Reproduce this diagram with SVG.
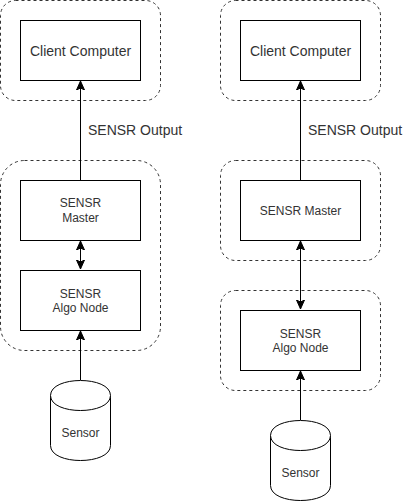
<svg xmlns="http://www.w3.org/2000/svg" width="411" height="501" viewBox="0 0 411 501">
<defs>
<style>
.grp{fill:none;stroke:#333;stroke-width:1;stroke-dasharray:3 3}
.box{fill:#fff;stroke:#000;stroke-width:1}
.cyl{fill:#fff;stroke:#000;stroke-width:1}
.cl{fill:none;stroke:#000;stroke-width:1}
.t{font-family:"Liberation Sans",Arial,Helvetica,sans-serif;fill:#333;text-anchor:middle}
.t12{font-size:12px}
.t14{font-size:14px}
.lbl{font-family:"Liberation Sans",Arial,Helvetica,sans-serif;fill:#333;font-size:14px}
</style>
<marker id="arr" markerUnits="userSpaceOnUse" markerWidth="10" markerHeight="10" viewBox="0 0 10 10" refX="9" refY="5" orient="auto-start-reverse">
<path d="M0,1 L9,5 L0,9 L2,5 Z" fill="#000" stroke="#000" stroke-width="1"/>
</marker>
</defs>
<rect width="411" height="501" fill="#fff"/>

<g id="groups">
<rect id="gL1" class="grp" x="0.5" y="0.5" width="160" height="100" rx="15" ry="15"/>
<rect id="gL2" class="grp" x="0.5" y="160.5" width="160" height="190" rx="24" ry="24"/>
<rect id="gR1" class="grp" x="220.5" y="0.5" width="160" height="100" rx="15" ry="15"/>
<rect id="gR2" class="grp" x="220.5" y="160.5" width="160" height="100" rx="15" ry="15"/>
<rect id="gR3" class="grp" x="220.5" y="290.5" width="160" height="100" rx="15" ry="15"/>
</g>

<g id="connectors">
<line class="cl" x1="80.5" y1="180" x2="80.5" y2="81" marker-end="url(#arr)"/>
<line class="cl" x1="80.5" y1="241" x2="80.5" y2="269" marker-start="url(#arr)" marker-end="url(#arr)"/>
<line class="cl" x1="80.5" y1="380" x2="80.5" y2="331" marker-end="url(#arr)"/>
<line class="cl" x1="300.5" y1="180" x2="300.5" y2="81" marker-end="url(#arr)"/>
<line class="cl" x1="300.5" y1="241" x2="300.5" y2="309" marker-start="url(#arr)" marker-end="url(#arr)"/>
<line class="cl" x1="300.5" y1="420" x2="300.5" y2="371" marker-end="url(#arr)"/>
<text class="lbl" x="88" y="135">SENSR Output</text>
<text class="lbl" x="308" y="135">SENSR Output</text>
</g>

<g id="clientL">
<rect class="box" x="20.5" y="20.5" width="120" height="60"/>
<text class="t t14" x="80.5" y="56">Client Computer</text>
</g>
<g id="masterL">
<rect class="box" x="20.5" y="180.5" width="120" height="60"/>
<text class="t t12" x="80.5" y="207">SENSR</text>
<text class="t t12" x="80.5" y="222">Master</text>
</g>
<g id="algoL">
<rect class="box" x="20.5" y="270.5" width="120" height="60"/>
<text class="t t12" x="80.5" y="298">SENSR</text>
<text class="t t12" x="80.5" y="312">Algo Node</text>
</g>
<g id="sensorL">
<path class="cyl" d="M50.5,395.5 C50.5,375.5 110.5,375.5 110.5,395.5 L110.5,445.5 C110.5,465.5 50.5,465.5 50.5,445.5 Z"/>
<path class="cyl" d="M50.5,395.5 C50.5,415.5 110.5,415.5 110.5,395.5" fill="none"/>
<text class="t t12" x="80.5" y="437">Sensor</text>
</g>

<g id="clientR">
<rect class="box" x="240.5" y="20.5" width="120" height="60"/>
<text class="t t14" x="300.5" y="56">Client Computer</text>
</g>
<g id="masterR">
<rect class="box" x="240.5" y="180.5" width="120" height="60"/>
<text class="t t12" x="300.5" y="215">SENSR Master</text>
</g>
<g id="algoR">
<rect class="box" x="240.5" y="310.5" width="120" height="60"/>
<text class="t t12" x="300.5" y="338">SENSR</text>
<text class="t t12" x="300.5" y="352">Algo Node</text>
</g>
<g id="sensorR">
<path class="cyl" d="M270.5,435.5 C270.5,415.5 330.5,415.5 330.5,435.5 L330.5,485.5 C330.5,505.5 270.5,505.5 270.5,485.5 Z"/>
<path class="cyl" d="M270.5,435.5 C270.5,455.5 330.5,455.5 330.5,435.5" fill="none"/>
<text class="t t12" x="300.5" y="477">Sensor</text>
</g>
</svg>
